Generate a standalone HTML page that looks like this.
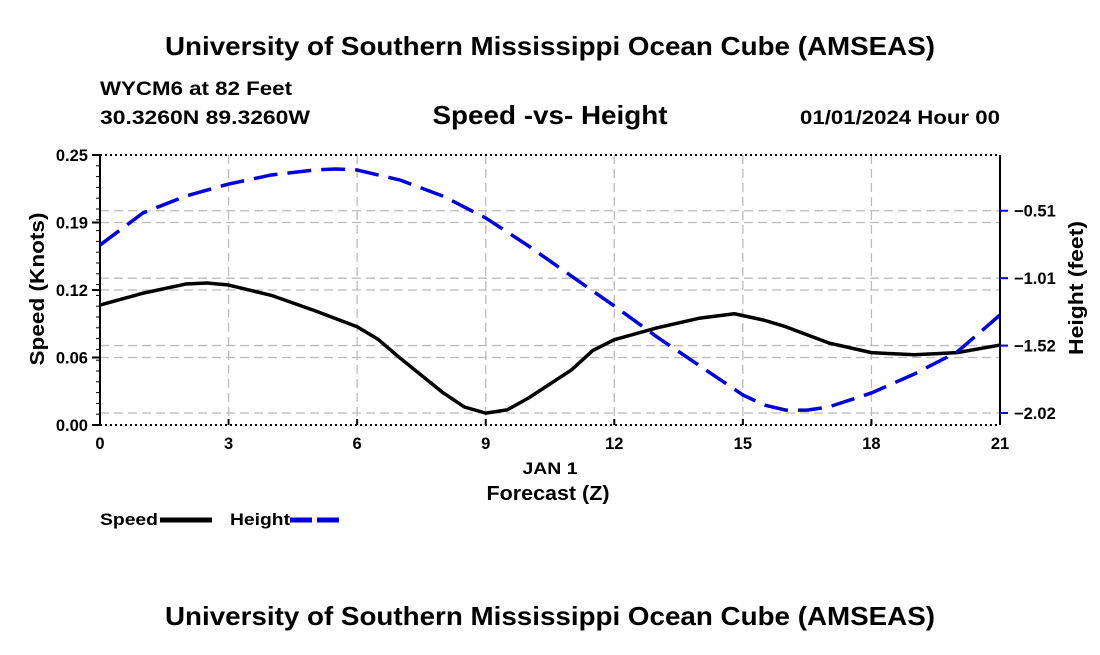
<!DOCTYPE html>
<html><head><meta charset="utf-8"><style>
body{margin:0;background:#fff;}
svg text{font-family:"Liberation Sans",sans-serif;font-weight:bold;}
</style></head><body>
<svg id="chart" width="1100" height="650" xmlns="http://www.w3.org/2000/svg">
<text x="550" y="55" font-size="26" text-anchor="middle" textLength="770" lengthAdjust="spacingAndGlyphs">University of Southern Mississippi Ocean Cube (AMSEAS)</text>
<text x="100" y="95" font-size="19" textLength="192" lengthAdjust="spacingAndGlyphs">WYCM6 at 82 Feet</text>
<text x="100" y="124" font-size="19" textLength="210" lengthAdjust="spacingAndGlyphs">30.3260N  89.3260W</text>
<text x="550" y="124" font-size="26" text-anchor="middle" textLength="235" lengthAdjust="spacingAndGlyphs">Speed -vs- Height</text>
<text x="1000" y="124" font-size="19" text-anchor="end" textLength="200" lengthAdjust="spacingAndGlyphs">01/01/2024 Hour 00</text>
<g id="grid"></g>
<g id="axes"></g>
<g id="series"></g>
<text x="550" y="474" font-size="17" text-anchor="middle" textLength="55" lengthAdjust="spacingAndGlyphs">JAN 1</text>
<text x="548" y="500" font-size="20" text-anchor="middle" textLength="123" lengthAdjust="spacingAndGlyphs">Forecast (Z)</text>
<text transform="translate(44,289) rotate(-90)" font-size="20" text-anchor="middle" textLength="153" lengthAdjust="spacingAndGlyphs">Speed (Knots)</text>
<text transform="translate(1083,288) rotate(-90)" font-size="20" text-anchor="middle" textLength="134" lengthAdjust="spacingAndGlyphs">Height (feet)</text>
<g>
<text x="100" y="525" font-size="17" textLength="58" lengthAdjust="spacingAndGlyphs">Speed</text>
<line x1="160" y1="520" x2="212" y2="520" stroke="#000" stroke-width="5"/>
<text x="230" y="525" font-size="17" textLength="60" lengthAdjust="spacingAndGlyphs">Height</text>
<line x1="290" y1="520" x2="342" y2="520" stroke="#0000dd" stroke-width="5" stroke-dasharray="22,5"/>
</g>
<text x="550" y="625" font-size="26" text-anchor="middle" textLength="770" lengthAdjust="spacingAndGlyphs">University of Southern Mississippi Ocean Cube (AMSEAS)</text>
</svg>
<script>
const speedHours=[0,1,2,2.5,3,4,5,6,6.5,7,8,8.5,9,9.5,10,11,11.5,12,13,14,14.8,15.5,16,17,18,19,20,21];
const speedVals=[0.111,0.122,0.1305,0.1315,0.1296,0.120,0.106,0.091,0.079,0.062,0.030,0.0167,0.011,0.014,0.025,0.051,0.069,0.079,0.090,0.099,0.103,0.097,0.091,0.076,0.067,0.065,0.067,0.074];
const heightHours=[0,1,2,3,4,5,5.5,6,7,8,9,10,11,12,13,14,15,15.5,16,16.5,17,18,19,20,21];
const heightVals=[-0.762,-0.522,-0.395,-0.305,-0.237,-0.200,-0.192,-0.200,-0.275,-0.395,-0.559,-0.769,-0.994,-1.218,-1.451,-1.668,-1.885,-1.96,-1.998,-1.998,-1.975,-1.87,-1.728,-1.563,-1.286];
const xTicks=[0,3,6,9,12,15,18,21];
const leftTicks=[0,0.0625,0.125,0.1875,0.25];
const leftLabels=["0.00","0.06","0.12","0.19","0.25"];
const rightTicks=[-2.02,-1.515,-1.01,-0.505];
const rightLabels=["\u22122.02","\u22121.52","\u22121.01","\u22120.51"];

const L=100,R=1000,T=155,B=425;
const xs=h=>L+(h/21)*(R-L);
const yl=v=>B-(v/0.25)*(B-T);
const yr=h=>413-(h+2.02)*133.5;
const NS="http://www.w3.org/2000/svg";
function mk(tag,attrs,parent){const e=document.createElementNS(NS,tag);for(const k in attrs)e.setAttribute(k,attrs[k]);parent.appendChild(e);return e;}
const grid=document.getElementById('grid'),axes=document.getElementById('axes'),ser=document.getElementById('series');
const gs={stroke:"#bbb","stroke-width":1.3,"stroke-dasharray":"9,5"};
xTicks.forEach(t=>{if(t>0&&t<21){const l=mk('line',Object.assign({x1:xs(t),x2:xs(t),y1:T,y2:B},gs),grid);

}});
leftTicks.forEach(t=>{if(t>0&&t<0.25){const l=mk('line',Object.assign({x1:L,x2:R,y1:yl(t),y2:yl(t)},gs),grid);

}});
rightTicks.forEach(t=>{const l=mk('line',Object.assign({x1:L,x2:R,y1:yr(t),y2:yr(t)},gs),grid);

});
[[L,T,R,T],[L,B,R,B]].forEach(c=>{const l=mk('line',{x1:c[0],y1:c[1],x2:c[2],y2:c[3],stroke:"#000","stroke-width":2,"stroke-dasharray":"2,3"},axes);

});
[L,R].forEach(x=>{const l=mk('line',{x1:x,y1:T,x2:x,y2:B,stroke:"#000","stroke-width":2},axes);

});
for(let i=0;i<=25;i++){const y=B-i*(B-T)/25;const l=mk('line',{x1:L-4,x2:L,y1:y,y2:y,stroke:"#000","stroke-width":1},axes);

}
leftTicks.forEach((t,i)=>{const l=mk('line',{x1:L-8,x2:L,y1:yl(t),y2:yl(t),stroke:"#000","stroke-width":2},axes);


const tx=mk('text',{x:L-12,y:yl(t)+6,"font-size":16.5,"text-anchor":"end"},axes);tx.textContent=leftLabels[i];

});
rightTicks.forEach((t,i)=>{const l=mk('line',{x1:R,x2:R+8,y1:yr(t),y2:yr(t),stroke:"#0000dd","stroke-width":2},axes);


const tx=mk('text',{x:R+14,y:yr(t)+6,"font-size":16.5},axes);tx.textContent=rightLabels[i];

});
xTicks.forEach(t=>{const l=mk('line',{x1:xs(t),x2:xs(t),y1:B,y2:B-6,stroke:"#000","stroke-width":2},axes);


const tx=mk('text',{x:xs(t),y:B+24,"font-size":16.5,"text-anchor":"middle"},axes);tx.textContent=String(t);

});
const sp=mk('polyline',{points:speedHours.map((h,i)=>xs(h)+","+yl(speedVals[i])).join(" "),fill:"none",stroke:"#000","stroke-width":3.5,"stroke-linejoin":"round"},ser);


const hp=mk('polyline',{points:heightHours.map((h,i)=>xs(h)+","+yr(heightVals[i])).join(" "),fill:"none",stroke:"#0000dd","stroke-width":3.5,"stroke-dasharray":"24,10"},ser);


</script>
</body></html>
